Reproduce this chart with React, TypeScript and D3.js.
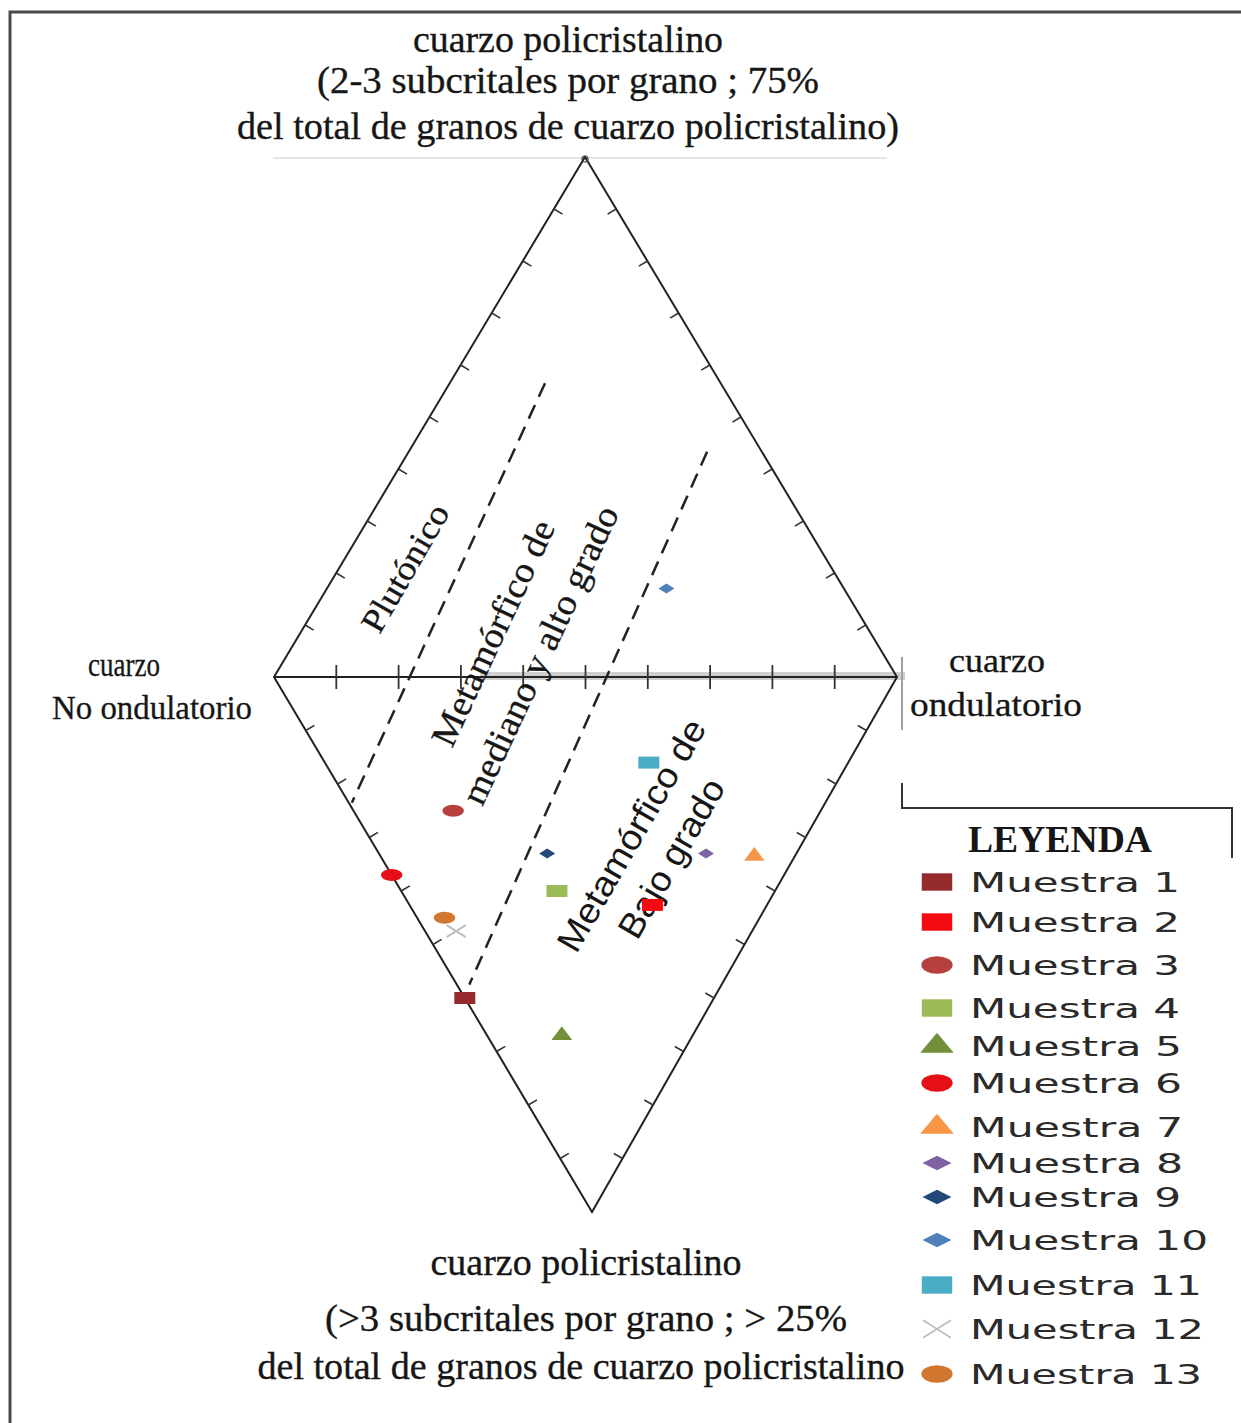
import React from 'react';
import * as d3 from 'd3';

// ---------- data ----------
const samples = ["Muestra 1", "Muestra 2", "Muestra 3", "Muestra 4", "Muestra 5", "Muestra 6", "Muestra 7", "Muestra 8", "Muestra 9", "Muestra 10", "Muestra 11", "Muestra 12", "Muestra 13"];
// % cuarzo ondulatorio (horizontal axis, 0 = No ondulatorio, 100 = ondulatorio)
const ondulatorio = [0, 39, 16, 25, 12, 0, 60, 52.5, 27, 54.5, 52, 5, 4.4];
// % cuarzo policristalino (towards the apex of the triangle where the sample lies)
const policristalino = [60, 42.6, 25, 40, 67, 37, 33.5, 33, 33, 17, 16, 47.5, 45];
// which triangle: "sup" = 2-3 subcristales, "inf" = >3 subcristales
const triangulo = ["inf", "inf", "inf", "inf", "inf", "inf", "inf", "inf", "inf", "sup", "inf", "inf", "inf"];
const simbolos = ["square", "square", "circle", "square", "triangle", "circle", "triangle", "diamond", "diamond", "diamond", "square", "x", "circle"];
const colores = ["#962B2E", "#F40A10", "#B5403D", "#9BBB59", "#72903A", "#E60F18", "#F79646", "#7E62A1", "#24487A", "#4F81BD", "#4BACC6", "#BDBDBD", "#D2772F"];

// dashed boundary lines: upper end (sup triangle) and lower end (inf triangle)
const limiteSupOnd = [15.3, 47.9];
const limiteSupPoli = [56.5, 43.3];
const limiteInfOnd = [0.5, 2];
const limiteInfPoli = [23.5, 57.5];

const tickValues = d3.range(10, 100, 10);

const tituloSup = ["cuarzo policristalino", "(2-3 subcritales por grano ;  75%", "del total de granos de cuarzo policristalino)"];
const tituloInf = ["cuarzo policristalino", "(>3 subcritales por grano ; > 25%", "del total de granos de cuarzo policristalino"];

// ---------- layout ----------
const W = 1241, H = 1423;
const L: [number, number] = [274, 677];
const R: [number, number] = [897, 677];
const T: [number, number] = [585, 157];
const B: [number, number] = [592, 1212];

const xOnd = d3.scaleLinear().domain([0, 100]).range([L[0], R[0]]);
const fPoli = d3.scaleLinear().domain([0, 100]).range([0, 1]);

function pos(o: number, p: number, tri: string): [number, number] {
  const A = tri === 'sup' ? T : B;
  const f = fPoli(p);
  return [xOnd(o) + (A[0] - L[0]) * f, L[1] + (A[1] - L[1]) * f];
}

const diamondType = {
  draw(ctx: any, size: number) {
    const r = Math.sqrt(size) / 2;
    ctx.moveTo(0, -r); ctx.lineTo(r, 0); ctx.lineTo(0, r); ctx.lineTo(-r, 0); ctx.closePath();
  }
};
const xType = {
  draw(ctx: any, size: number) {
    const r = Math.sqrt(size) / 2;
    ctx.moveTo(-r, -r); ctx.lineTo(r, r); ctx.moveTo(-r, r); ctx.lineTo(r, -r);
  }
};

function Marker({ kind, color, x, y, s, legend }: { kind: string; color: string; x: number; y: number; s: number; legend?: boolean }) {
  let type: any = d3.symbolSquare, size = 144, sx = 1.75;
  if (kind === 'circle') { type = d3.symbolCircle; size = 113; sx = 1.8; }
  if (kind === 'triangle') { type = d3.symbolTriangle; size = 110; sx = legend ? 1.45 : 1.3; }
  if (kind === 'diamond') { type = diamondType; size = 100; sx = legend ? 2.0 : 1.6; }
  if (kind === 'x') { type = xType; size = 144; sx = 1.6; }
  const d = d3.symbol().type(type).size(size)() as string;
  const tr = `translate(${x},${y}) scale(${sx * s},${s})`;
  if (kind === 'x') {
    return <path d={d} transform={tr} fill="none" stroke={color} strokeWidth={1.8} vectorEffect="non-scaling-stroke" />;
  }
  return <path d={d} transform={tr} fill={color} />;
}

function edgeTicks(P0: [number, number], P1: [number, number], len: number) {
  const cx = (L[0] + R[0]) / 2, cy = L[1];
  const dx = P1[0] - P0[0], dy = P1[1] - P0[1];
  const n = Math.hypot(dx, dy);
  let nx = -dy / n, ny = dx / n;
  const mx = (P0[0] + P1[0]) / 2, my = (P0[1] + P1[1]) / 2;
  if ((cx - mx) * nx + (cy - my) * ny < 0) { nx = -nx; ny = -ny; }
  return tickValues.map((v) => {
    const t = v / 100;
    const x = P0[0] + dx * t, y = P0[1] + dy * t;
    return <line key={`${P0}-${v}`} x1={x} y1={y} x2={x + nx * len} y2={y + ny * len} stroke="#333" strokeWidth={1.6} />;
  });
}

const legendY = [882, 922, 965, 1008, 1046, 1083, 1127, 1163, 1197, 1240, 1285, 1329, 1374];
const legendW = [210, 210, 210, 210, 212, 212, 213, 213, 211, 238, 232, 234, 232];

export default function App() {
  const serif = '"Liberation Serif", "Times New Roman", serif';
  const sans = '"Liberation Sans", Arial, sans-serif';
  const legendFont = '"DejaVu Sans", Verdana, sans-serif';
  const ink = '#161616';
  const topW = [310, 502, 662];
  const topY = [52, 93, 139];
  const botW = [311, 522, 647];
  const botY = [1275, 1331, 1379];
  const botX = [586, 586, 581];
  return (
    <svg width={W} height={H} style={{ position: 'absolute', left: 0, top: 0, background: '#fff' }} xmlns="http://www.w3.org/2000/svg">
      <rect x={0} y={0} width={W} height={H} fill="#fff" />
      {/* frame */}
      <rect x={10} y={12} width={1260} height={1440} fill="none" stroke="#4a4a4a" strokeWidth={3} />

      {/* titles */}
      {tituloSup.map((t, i) => (
        <text key={'ts' + i} x={568} y={topY[i]} textAnchor="middle" fontFamily={serif} fontSize={37} fill={ink}
          stroke={ink} strokeWidth={0.35} textLength={topW[i]} lengthAdjust="spacingAndGlyphs">{t}</text>
      ))}
      <line x1={273} y1={158} x2={887} y2={158} stroke="#e6e6e6" strokeWidth={2} />
      {tituloInf.map((t, i) => (
        <text key={'ti' + i} x={botX[i]} y={botY[i]} textAnchor="middle" fontFamily={serif} fontSize={37} fill={ink}
          stroke={ink} strokeWidth={0.35} textLength={botW[i]} lengthAdjust="spacingAndGlyphs">{t}</text>
      ))}
      <text x={124} y={676} textAnchor="middle" fontFamily={serif} fontSize={33} fill={ink} stroke={ink} strokeWidth={0.3} textLength={72} lengthAdjust="spacingAndGlyphs">cuarzo</text>
      <text x={152} y={719} textAnchor="middle" fontFamily={serif} fontSize={33} fill={ink} stroke={ink} strokeWidth={0.3} textLength={200} lengthAdjust="spacingAndGlyphs">No ondulatorio</text>
      <text x={997} y={672} textAnchor="middle" fontFamily={serif} fontSize={33} fill={ink} stroke={ink} strokeWidth={0.3} textLength={96} lengthAdjust="spacingAndGlyphs">cuarzo</text>
      <text x={996} y={716} textAnchor="middle" fontFamily={serif} fontSize={33} fill={ink} stroke={ink} strokeWidth={0.3} textLength={172} lengthAdjust="spacingAndGlyphs">ondulatorio</text>

      {/* axis grey band */}
      <line x1={480} y1={676} x2={905} y2={676} stroke="#cfcfcf" strokeWidth={8} />
      <line x1={902} y1={657} x2={902} y2={730} stroke="#a0a0a0" strokeWidth={2} />

      {/* diamond */}
      <polygon points={[T, R, B, L].map((p) => p.join(',')).join(' ')} fill="none" stroke="#222" strokeWidth={2} />
      <line x1={L[0]} y1={L[1]} x2={R[0]} y2={R[1]} stroke="#222" strokeWidth={2} />
      <circle cx={T[0]} cy={T[1] + 2} r={3} fill="none" stroke="#444" strokeWidth={1.2} />
      {edgeTicks(L, T, 10)}
      {edgeTicks(R, T, 10)}
      {edgeTicks(L, B, 10)}
      {edgeTicks(R, B, 10)}
      {tickValues.map((v) => (
        <line key={'h' + v} x1={xOnd(v)} y1={L[1] - 12} x2={xOnd(v)} y2={L[1] + 12} stroke="#333" strokeWidth={1.8} />
      ))}

      {/* dashed boundaries */}
      {limiteSupOnd.map((o, i) => {
        const a = pos(o, limiteSupPoli[i], 'sup');
        const b = pos(limiteInfOnd[i], limiteInfPoli[i], 'inf');
        return <line key={'dl' + i} x1={a[0]} y1={a[1]} x2={b[0]} y2={b[1]} stroke="#222" strokeWidth={2.5} strokeDasharray="15 9" />;
      })}

      {/* region labels */}
      <text transform="translate(405,568) rotate(-60)" textAnchor="middle" dominantBaseline="central" fontFamily={serif} fontSize={34} fill={ink} stroke={ink} strokeWidth={0.3} textLength={142} lengthAdjust="spacingAndGlyphs">Plutónico</text>
      <text transform="translate(493,633) rotate(-65)" textAnchor="middle" dominantBaseline="central" fontFamily={serif} fontSize={36} fill={ink} stroke={ink} strokeWidth={0.3} textLength={245} lengthAdjust="spacingAndGlyphs">Metamórfico de</text>
      <text transform="translate(540,655) rotate(-65)" textAnchor="middle" dominantBaseline="central" fontFamily={serif} fontSize={36} fill={ink} stroke={ink} strokeWidth={0.3} textLength={325} lengthAdjust="spacingAndGlyphs">mediano y alto grado</text>
      <text transform="translate(631,835) rotate(-60)" textAnchor="middle" dominantBaseline="central" fontFamily={sans} fontSize={35} fill={ink} textLength={262} lengthAdjust="spacingAndGlyphs">Metamórfico de</text>
      <text transform="translate(671,858) rotate(-60)" textAnchor="middle" dominantBaseline="central" fontFamily={sans} fontSize={35} fill={ink} textLength={178} lengthAdjust="spacingAndGlyphs">Bajo grado</text>

      {/* points */}
      {samples.map((s, i) => {
        const [x, y] = pos(ondulatorio[i], policristalino[i], triangulo[i]);
        return <Marker key={s} kind={simbolos[i]} color={colores[i]} x={x} y={y} s={1} />;
      })}

      {/* legend */}
      <path d="M902,783 L902,808 L1232,808 L1232,858" fill="none" stroke="#333" strokeWidth={2} />
      <text x={1060} y={852} textAnchor="middle" fontFamily={serif} fontWeight="bold" fontSize={38} fill={ink} textLength={184} lengthAdjust="spacingAndGlyphs">LEYENDA</text>
      {samples.map((s, i) => (
        <g key={'lg' + i}>
          <Marker kind={simbolos[i]} color={colores[i]} x={937} y={legendY[i]} s={1.45} legend />
          <text x={970} y={legendY[i] + 10} fontFamily={legendFont} fontSize={26} fill="#2a2a2a" textLength={legendW[i]} lengthAdjust="spacingAndGlyphs">{s}</text>
        </g>
      ))}
    </svg>
  );
}
